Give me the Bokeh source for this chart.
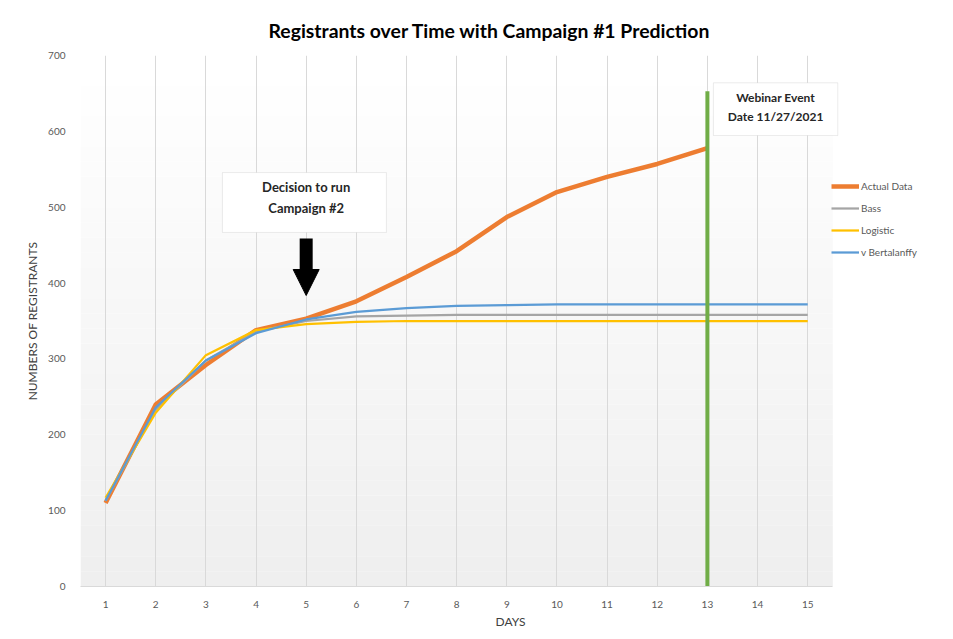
from bokeh.plotting import figure
from bokeh.models import (Legend, LegendItem, Label, BoxAnnotation, Arrow, NormalHead,
                          FixedTicker, Range1d)
from bokeh.embed import file_html
from bokeh.resources import INLINE

# ---------------- data ----------------
days = list(range(1, 16))
actual_days = list(range(1, 14))
actual = [110, 240, 292, 338, 353, 376, 408, 442, 487, 520, 540, 557, 578]
bass = [113, 233, 298, 336, 350, 356, 357, 358, 358, 358, 358, 358, 358, 358, 358]
logistic = [117, 229, 305, 338, 346, 349, 350, 350, 350, 350, 350, 350, 350, 350, 350]
bertalanffy = [113, 236, 298, 334, 352, 362, 367, 370, 371, 372, 372, 372, 372, 372, 372]
y_ticks = [0, 100, 200, 300, 400, 500, 600, 700]
webinar_day = 13
webinar_top = 653
decision_day = 5

title_text = "Registrants  over Time with Campaign  #1 Prediction"
FONT = "Lato"

X_MIN, X_MAX = 0.5, 15.5

p = figure(width=945, height=631, output_backend="svg", toolbar_location=None,
           x_range=Range1d(X_MIN, 17.648), y_range=Range1d(0, 700),
           min_border_left=80, min_border_right=5, min_border_top=55, min_border_bottom=45)
p.outline_line_color = None
p.background_fill_color = "white"
p.border_fill_color = "white"

# title
p.title.text = title_text
p.title.align = "left"
p.title.offset = 188
p.title.standoff = 27
p.title.text_font = FONT
p.title.text_font_style = "bold"
p.title.text_font_size = "19.4px"
p.title.text_color = "#000000"

# gradient-like background strips (decoration)
n = 35
for i in range(n):
    t = i / (n - 1)
    c = int(round(239 + (255 - 239) * t))
    p.add_layout(BoxAnnotation(left=X_MIN, right=X_MAX,
                               bottom=700 * i / n, top=700 * (i + 1) / n,
                               fill_color=(c, c, c), fill_alpha=1.0, line_color=None,
                               level="image"))

# grid
p.ygrid.grid_line_color = None
p.xgrid.grid_line_color = "#d9d9d9"
p.xgrid.grid_line_width = 1
p.xgrid.ticker = FixedTicker(ticks=days)

# axes
p.xaxis.ticker = FixedTicker(ticks=days)
p.yaxis.ticker = FixedTicker(ticks=y_ticks)
p.xaxis.bounds = (X_MIN, X_MAX)
for ax in (p.xaxis, p.yaxis):
    ax.major_tick_line_color = None
    ax.minor_tick_line_color = None
    ax.major_label_text_font = FONT
    ax.major_label_text_font_size = "10px"
    ax.major_label_text_color = "#595959"
    ax.axis_label_text_font = FONT
    ax.axis_label_text_font_style = "normal"
    ax.axis_label_text_font_size = "12px"
    ax.axis_label_text_color = "#404040"
p.xaxis.axis_line_color = "#d9d9d9"
p.yaxis.axis_line_color = None
p.xaxis.axis_label = "DAYS"
p.xaxis.axis_label_text_align = "center"
p.yaxis.axis_label = "NUMBERS OF REGISTRANTS"
p.xaxis.major_label_standoff = 8
p.xaxis.axis_label_standoff = 3
p.yaxis.major_label_standoff = 9
p.yaxis.axis_label_standoff = 5

# series
r_act = p.line(actual_days, actual, line_color="#ED7D31", line_width=4.5, line_join="round")
r_bass = p.line(days, bass, line_color="#A5A5A5", line_width=2.25)
r_log = p.line(days, logistic, line_color="#FFC000", line_width=2.25)
r_bert = p.line(days, bertalanffy, line_color="#5B9BD5", line_width=2.25)

# webinar event line
p.segment(x0=[webinar_day], y0=[0], x1=[webinar_day], y1=[webinar_top],
          line_color="#70AD47", line_width=4)

# legend
legend = Legend(items=[LegendItem(label="Actual Data", renderers=[r_act]),
                       LegendItem(label="Bass", renderers=[r_bass]),
                       LegendItem(label="Logistic", renderers=[r_log]),
                       LegendItem(label="v Bertalanffy", renderers=[r_bert])],
                location=(751, 326), padding=0, margin=0, spacing=6,
                glyph_width=28, glyph_height=16, label_height=16, label_standoff=2,
                label_text_font=FONT, label_text_font_size="10px", label_text_color="#595959",
                border_line_color=None, background_fill_alpha=0)
p.add_layout(legend)

# decision annotation
p.add_layout(BoxAnnotation(left=3.33, right=6.60, bottom=466.7, top=545.7,
                           fill_color="white", fill_alpha=1, line_color="#bfbfbf", line_width=1))
p.add_layout(Label(x=decision_day, y=527, text="Decision to run", text_align="center",
                   text_baseline="middle", text_font=FONT, text_font_style="bold",
                   text_font_size="13px", text_color="#262626"))
p.add_layout(Label(x=decision_day, y=499.5, text="Campaign #2", text_align="center",
                   text_baseline="middle", text_font=FONT, text_font_style="bold",
                   text_font_size="13px", text_color="#262626"))
p.add_layout(Arrow(x_start=decision_day, y_start=458.7, x_end=decision_day, y_end=383.6,
                   line_color="black", line_width=13,
                   end=NormalHead(size=26, fill_color="black", line_color="black", line_width=1)))

# webinar annotation
p.add_layout(BoxAnnotation(left=13.12, right=15.6, bottom=594.5, top=664,
                           fill_color="white", fill_alpha=1, line_color="#bfbfbf", line_width=1))
p.add_layout(Label(x=14.36, y=645, text="Webinar Event", text_align="center",
                   text_baseline="middle", text_font=FONT, text_font_style="bold",
                   text_font_size="12px", text_color="#262626"))
p.add_layout(Label(x=14.36, y=620, text="Date 11/27/2021", text_align="center",
                   text_baseline="middle", text_font=FONT, text_font_style="bold",
                   text_font_size="12px", text_color="#262626"))

open("out.html", "w").write(file_html(p, INLINE))
